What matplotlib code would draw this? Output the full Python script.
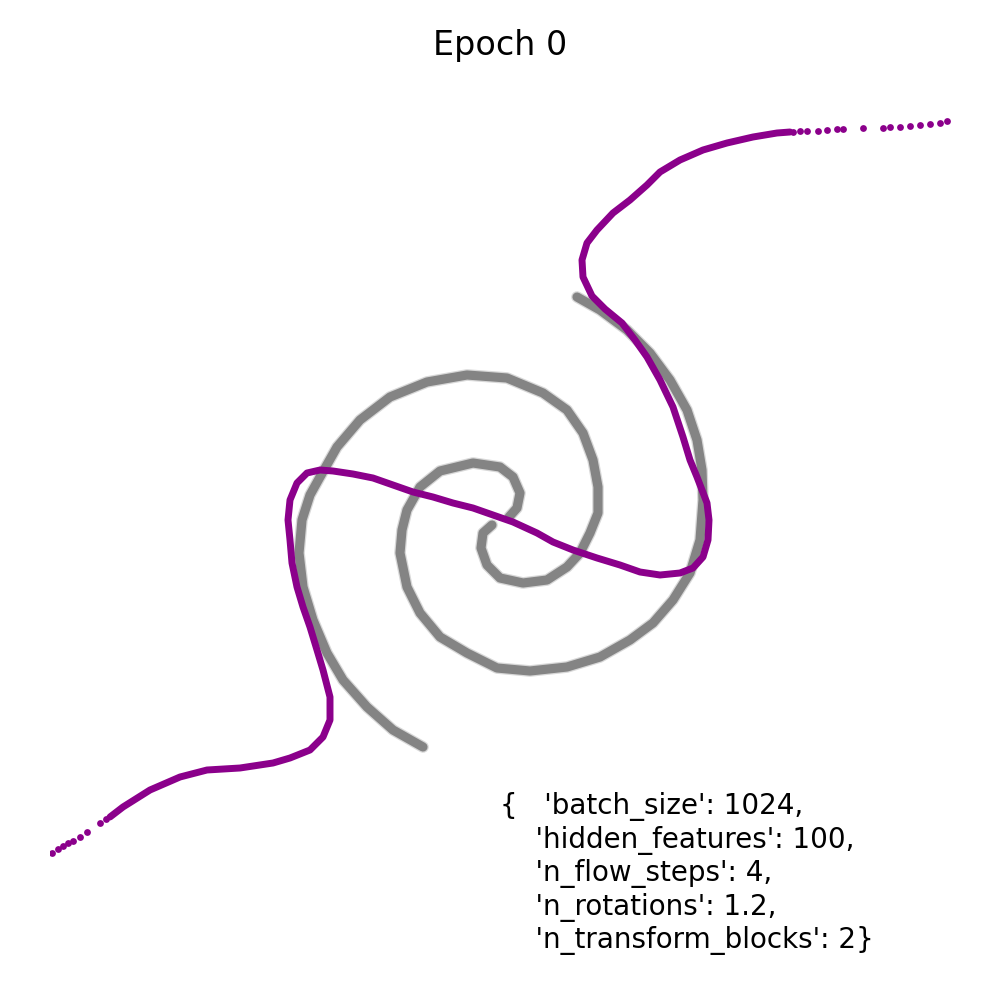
import pprint
import matplotlib.pyplot as plt

# --------------------------------------------------
# DATA
# --------------------------------------------------

# target two-spiral distribution, centre lines of both arms
arm1_x = [0.77, 1.00, 1.27, 1.50, 1.70, 1.87, 1.97, 2.02, 2.03, 2.00, 1.90, 1.73,
          1.53, 1.30, 1.00, 0.67, 0.30, -0.03, -0.33, -0.60, -0.80, -0.93, -1.00,
          -0.98, -0.93, -0.80, -0.60, -0.27, 0.00, 0.13, 0.20, 0.17, 0.09]
arm1_y = [2.23, 2.10, 1.90, 1.67, 1.40, 1.10, 0.80, 0.50, 0.20, -0.20, -0.53, -0.80,
          -1.03, -1.20, -1.37, -1.47, -1.51, -1.48, -1.33, -1.17, -0.93, -0.67, -0.33,
          -0.10, 0.10, 0.33, 0.49, 0.57, 0.53, 0.43, 0.27, 0.12, 0.03]

arm2_x = [-0.77, -1.07, -1.33, -1.57, -1.73, -1.87, -1.97, -2.01, -1.98, -1.90, -1.80,
          -1.63, -1.40, -1.10, -0.73, -0.33, 0.07, 0.43, 0.67, 0.83, 0.93, 0.98, 0.98,
          0.90, 0.80, 0.67, 0.47, 0.23, 0.00, -0.13, -0.19, -0.17, -0.08]
arm2_y = [-2.27, -2.10, -1.87, -1.60, -1.33, -1.00, -0.67, -0.33, 0.00, 0.25, 0.43,
          0.73, 1.00, 1.23, 1.38, 1.45, 1.42, 1.27, 1.10, 0.87, 0.60, 0.33, 0.07,
          -0.13, -0.33, -0.47, -0.60, -0.63, -0.58, -0.45, -0.28, -0.13, -0.05]

# flow samples: dense middle part
flow_x = [-3.90, -3.77, -3.50, -3.20, -2.93, -2.60, -2.27, -2.10, -1.90, -1.77, -1.70,
          -1.70, -1.77, -1.83, -1.90, -1.97, -2.03, -2.08, -2.10, -2.12, -2.10, -2.03,
          -1.93, -1.80, -1.67, -1.47, -1.27, -1.07, -0.87, -0.67, -0.47, -0.27, -0.07,
          0.13, 0.37, 0.53, 0.73, 0.97, 1.20, 1.40, 1.60, 1.80, 1.93, 2.03, 2.08, 2.09,
          2.07, 2.02, 1.97, 1.90, 1.83, 1.73, 1.60, 1.47, 1.35, 1.22, 1.05, 0.92, 0.83,
          0.82, 0.87, 0.97, 1.13, 1.30, 1.47, 1.60, 1.80, 2.03, 2.27, 2.53, 2.77, 2.90]
flow_y = [-2.97, -2.87, -2.70, -2.57, -2.50, -2.48, -2.43, -2.38, -2.30, -2.17, -2.00,
          -1.77, -1.50, -1.30, -1.07, -0.87, -0.67, -0.43, -0.20, 0.00, 0.20, 0.37,
          0.47, 0.50, 0.49, 0.46, 0.42, 0.35, 0.28, 0.23, 0.17, 0.12, 0.05,
          -0.02, -0.13, -0.22, -0.30, -0.38, -0.45, -0.52, -0.55, -0.53, -0.48, -0.37,
          -0.20, 0.00, 0.17, 0.30, 0.43, 0.60, 0.83, 1.13, 1.40, 1.63, 1.80, 1.97, 2.11,
          2.24, 2.43, 2.60, 2.77, 2.90, 3.07, 3.20, 3.35, 3.48, 3.60, 3.70, 3.77, 3.83,
          3.87, 3.88]

# flow samples: sparse tails
tail_x = [-4.48, -4.42, -4.37, -4.32, -4.27, -4.20, -4.13, -4.00, -3.94,
          2.93, 3.00, 3.07, 3.18, 3.27, 3.37, 3.43, 3.63, 3.83, 3.90, 4.00, 4.10,
          4.20, 4.30, 4.40, 4.47]
tail_y = [-3.33, -3.29, -3.26, -3.23, -3.21, -3.17, -3.12, -3.03, -2.99,
          3.88, 3.89, 3.89, 3.89, 3.90, 3.91, 3.91, 3.92, 3.92, 3.93, 3.93, 3.94,
          3.95, 3.96, 3.97, 3.99]

params = {
    "batch_size": 1024,
    "hidden_features": 100,
    "n_flow_steps": 4,
    "n_rotations": 1.2,
    "n_transform_blocks": 2,
}
epoch = 0

# --------------------------------------------------
# PLOT
# --------------------------------------------------

fig = plt.figure(figsize=(5, 5), dpi=200)
ax = fig.add_axes([0.05, 0.028, 0.9, 0.9])

# soft grey band for the target samples
for xs, ys in [(arm1_x, arm1_y), (arm2_x, arm2_y)]:
    ax.plot(xs, ys, color="gray", lw=4.2, alpha=0.3,
            solid_capstyle="round", solid_joinstyle="round")
    ax.plot(xs, ys, color="gray", lw=3.3, alpha=0.95,
            solid_capstyle="round", solid_joinstyle="round")

ax.plot(flow_x, flow_y, color="darkmagenta", lw=2.5,
        solid_capstyle="round", solid_joinstyle="round")
ax.scatter(tail_x, tail_y, color="darkmagenta", s=6, linewidths=0)

ax.set_xlim(-4.5, 4.5)
ax.set_ylim(-4.52, 4.48)
ax.set_aspect("equal")
ax.axis("off")
ax.set_title(f"Epoch {epoch}")

fig.text(0.5, 0.045, pprint.pformat(params, indent=4), ha="left", va="bottom",
         fontsize=10)

fig.savefig("out.png", dpi=200)
plt.close(fig)
